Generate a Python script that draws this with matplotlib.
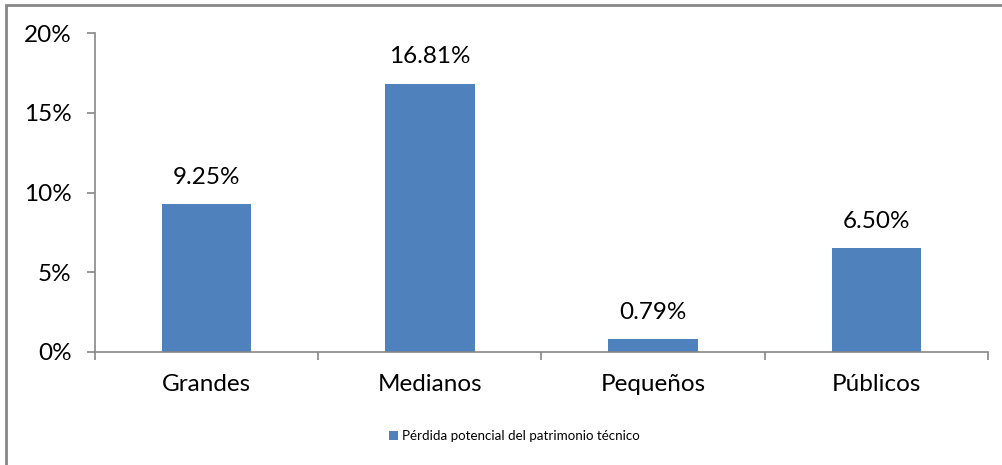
import matplotlib
matplotlib.use("Agg")
import matplotlib.pyplot as plt
from matplotlib.patches import Rectangle
from matplotlib.ticker import FixedLocator, FuncFormatter
import numpy as np

categories = ["Grandes", "Medianos", "Pequeños", "Públicos"]
values = [9.25, 16.81, 0.79, 6.50]
series_name = "Pérdida potencial del patrimonio técnico"
yticks = [0, 5, 10, 15, 20]

plt.rcParams['font.family'] = ['Lato', 'DejaVu Sans']

W, H = 1003, 465
fig = plt.figure(figsize=(W / 100, H / 100), dpi=100)
ax = fig.add_axes([95 / W, 1 - 352 / H, (988 - 95) / W, (352 - 33) / H])

bar_color = "#4F81BD"
axis_color = "#868686"
x = np.arange(len(categories))
bars = ax.bar(x, values, width=0.4, color=bar_color, label=series_name, zorder=2)

for xi, v in zip(x, values):
    ax.annotate(f"{v:.2f}%", (xi, v), xytext=(0, 12), textcoords="offset points",
                ha="center", va="bottom", fontsize=17.5, color="black")

ax.set_xlim(-0.5, len(categories) - 0.5)
ax.set_ylim(0, 20)
ax.set_yticks(yticks)
ax.yaxis.set_major_formatter(FuncFormatter(lambda v, p: f"{v:.0f}%"))
ax.tick_params(axis="y", direction="out", length=6, width=1.2, color=axis_color,
               labelsize=17.5, pad=11)

ax.xaxis.set_major_locator(FixedLocator(np.arange(-0.5, len(categories), 1.0)))
ax.xaxis.set_minor_locator(FixedLocator(x))
ax.set_xticklabels([], minor=False)
ax.set_xticklabels(categories, minor=True)
ax.tick_params(axis="x", which="major", direction="out", length=6, width=1.2, color=axis_color)
ax.tick_params(axis="x", which="minor", length=0, labelsize=17.5, pad=16)

for s in ["top", "right"]:
    ax.spines[s].set_visible(False)
for s in ["left", "bottom"]:
    ax.spines[s].set_color(axis_color)
    ax.spines[s].set_linewidth(1.2)

fig.legend(handles=[bars], labels=[series_name], loc="center left",
           bbox_to_anchor=(389 / W, 1 - 436 / H), frameon=False, fontsize=9.6,
           handlelength=0.7, handleheight=0.7, handletextpad=0.25, borderpad=0,
           borderaxespad=0)

fig.patches.append(Rectangle((6.5 / W, -0.2), 2.0, (1 - 5.5 / H) + 0.2,
                             transform=fig.transFigure, fill=False,
                             edgecolor=axis_color, linewidth=2))

fig.savefig("out.png", dpi=100)
